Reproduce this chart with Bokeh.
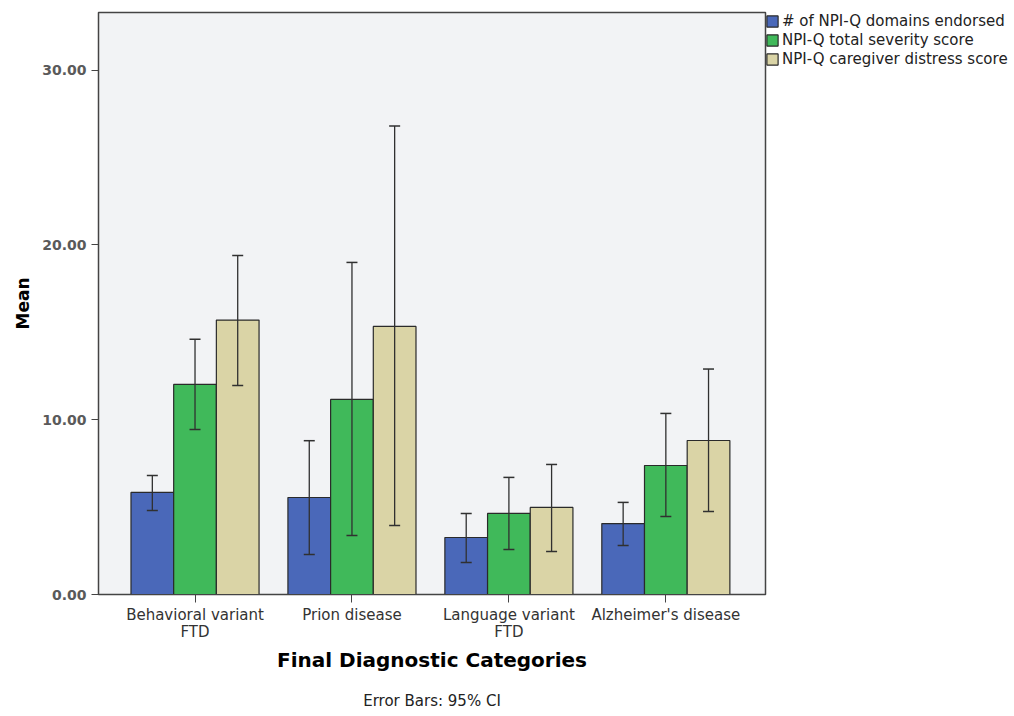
from bokeh.plotting import figure
from bokeh.models import (ColumnDataSource, Whisker, TeeHead, Legend,
                          LegendItem, NumeralTickFormatter, FixedTicker, Range1d, Title)
from bokeh.transform import dodge
from bokeh.embed import file_html
from bokeh.resources import INLINE

categories = ["Behavioral variant\nFTD", "Prion disease", "Language variant\nFTD", "Alzheimer's disease"]
series_names = ["# of NPI-Q domains endorsed", "NPI-Q total severity score", "NPI-Q caregiver distress score"]

domains_mean = [5.84, 5.55, 3.26, 4.06]
domains_low = [4.81, 2.29, 1.83, 2.80]
domains_high = [6.81, 8.80, 4.64, 5.27]

severity_mean = [12.02, 11.16, 4.64, 7.38]
severity_low = [9.44, 3.38, 2.58, 4.46]
severity_high = [14.60, 19.00, 6.70, 10.36]

distress_mean = [15.70, 15.34, 4.98, 8.81]
distress_low = [11.96, 3.95, 2.46, 4.75]
distress_high = [19.40, 26.80, 7.44, 12.90]

colors = ["#4a68b9", "#40b95a", "#dad4a6"]
offsets = [-0.272, 0.0, 0.272]

# category positions on the x scale (1, 2, 3, 4)
cat_pos = list(range(1, len(categories) + 1))

p = figure(x_range=Range1d(0.385, len(categories) + 0.635),
           y_range=Range1d(0, 33.3),
           frame_width=667, frame_height=582,
           min_border_left=98, min_border_top=12, min_border_right=5, min_border_bottom=0,
           output_backend="svg", toolbar_location=None, tools="")

p.background_fill_color = "#f2f3f5"
p.border_fill_color = "white"
p.outline_line_color = "#444444"
p.outline_line_width = 1.5
p.xgrid.visible = False
p.ygrid.visible = False

data = [(domains_mean, domains_low, domains_high),
        (severity_mean, severity_low, severity_high),
        (distress_mean, distress_low, distress_high)]

items = []
for (m, lo, hi), col, off, name in zip(data, colors, offsets, series_names):
    src = ColumnDataSource(dict(pos=cat_pos, mean=m, low=lo, high=hi))
    r = p.vbar(x=dodge("pos", off), top="mean", width=0.272, bottom=0,
               source=src, fill_color=col, line_color="#2a2a2a", line_width=1.2)
    items.append(LegendItem(label=name, renderers=[r]))
    w = Whisker(base=dodge("pos", off), upper="high", lower="low", source=src,
                line_color="#303030", line_width=1.3, level="overlay",
                upper_head=TeeHead(size=11, line_color="#303030", line_width=1.5),
                lower_head=TeeHead(size=11, line_color="#303030", line_width=1.5))
    p.add_layout(w)

legend = Legend(items=items, location="top_left", border_line_color=None,
                background_fill_alpha=0, margin=0, padding=3, spacing=1,
                glyph_width=14, glyph_height=14, label_height=15,
                label_text_font="DejaVu Sans", label_text_font_size="15px",
                label_text_color="#222222", label_standoff=3)
p.add_layout(legend, "right")

# y axis
p.yaxis.ticker = FixedTicker(ticks=[0, 10, 20, 30])
p.yaxis.formatter = NumeralTickFormatter(format="0.00")
p.yaxis.axis_label = "Mean"
p.yaxis.axis_label_text_font = "DejaVu Sans"
p.yaxis.axis_label_text_font_style = "bold"
p.yaxis.axis_label_text_font_size = "17px"
p.yaxis.axis_label_text_color = "black"
p.yaxis.axis_label_standoff = 6
p.yaxis.major_label_text_font = "DejaVu Sans"
p.yaxis.major_label_text_font_style = "bold"
p.yaxis.major_label_text_font_size = "14px"
p.yaxis.major_label_text_color = "#5a5a5a"
p.yaxis.major_tick_in = 0
p.yaxis.major_tick_out = 7
p.yaxis.minor_tick_line_color = None
p.yaxis.axis_line_color = "#444444"
p.yaxis.major_tick_line_color = "#444444"

# x axis with category labels
p.xaxis.ticker = FixedTicker(ticks=cat_pos)
p.xaxis.major_label_overrides = dict(zip(cat_pos, categories))
p.xaxis.minor_tick_line_color = None
p.xaxis.major_label_text_font = "DejaVu Sans"
p.xaxis.major_label_text_font_size = "15px"
p.xaxis.major_label_text_line_height = 0.95
p.xaxis.major_label_text_color = "#333333"
p.xaxis.major_label_standoff = 3
p.xaxis.major_tick_in = 0
p.xaxis.major_tick_out = 8
p.xaxis.axis_line_color = "#444444"
p.xaxis.major_tick_line_color = "#444444"
p.xaxis.axis_label = "Final Diagnostic Categories"
p.xaxis.axis_label_text_font = "DejaVu Sans"
p.xaxis.axis_label_text_font_style = "bold"
p.xaxis.axis_label_text_font_size = "20px"
p.xaxis.axis_label_text_color = "black"
p.xaxis.axis_label_standoff = 4

note = Title(text="Error Bars: 95% CI", align="center", text_font="DejaVu Sans",
             text_font_size="15px", text_font_style="normal", text_color="#222222",
             standoff=31)
p.add_layout(note, "below")

open("out.html", "w").write(file_html(p, INLINE))
